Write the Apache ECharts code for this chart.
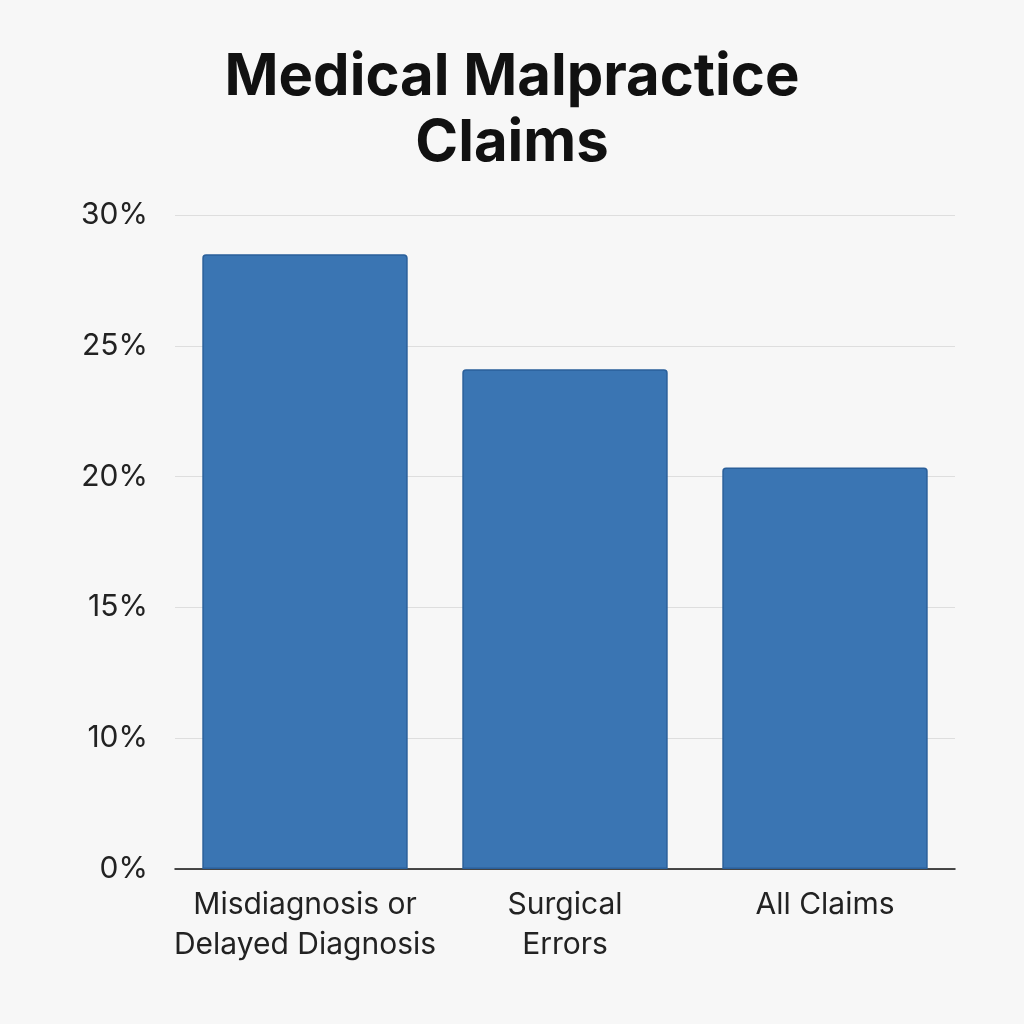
<!DOCTYPE html>
<html>
<head>
<meta charset="utf-8">
<script src="https://cdn.jsdelivr.net/npm/echarts@6/dist/echarts.min.js"></script>
<style>
html,body{margin:0;padding:0;background:#f7f7f7;}
#chart{width:1024px;height:1024px;}
</style>
</head>
<body>
<div id="chart"></div>
<script>
var categories = ['Misdiagnosis or\nDelayed Diagnosis', 'Surgical\nErrors', 'All Claims'];
var values = [28.5, 24.1, 20.35]; // percent
var tickLabels = ['0%', '10%', '15%', '20%', '25%', '30%'];
var tickValues = [0, 10, 15, 20, 25, 30];

// the picture's axis spaces its ticks evenly, so map percent -> tick step
function toStep(v){
  for (var i = 1; i < tickValues.length; i++) {
    if (v <= tickValues[i]) {
      return (i - 1) + (v - tickValues[i-1]) / (tickValues[i] - tickValues[i-1]);
    }
  }
  return tickValues.length - 1;
}

var myChart = echarts.init(document.getElementById('chart'));
var option = {
  backgroundColor: '#f7f7f7',
  title: {
    text: 'Medical Malpractice\nClaims',
    left: 'center',
    top: 40,
    textStyle: {fontFamily: 'Inter', fontWeight: 'bold', fontSize: 58, lineHeight: 66, color: '#111'}
  },
  grid: {left: 175, right: 69, top: 215, bottom: 155},
  xAxis: {
    type: 'category',
    data: categories,
    axisLine: {lineStyle: {color: '#111', width: 1.5}},
    axisTick: {show: false},
    axisLabel: {interval: 0, fontFamily: 'Inter', fontSize: 30, color: '#222', lineHeight: 40, margin: 16}
  },
  yAxis: {
    type: 'value',
    min: 0, max: 5, interval: 1,
    axisLabel: {
      fontFamily: 'Inter', fontSize: 30, color: '#222', margin: 27,
      formatter: function(v){ return tickLabels[Math.round(v)]; }
    },
    splitLine: {lineStyle: {color: '#dedede'}}
  },
  series: [{
    type: 'bar',
    barWidth: '79%',
    data: values.map(toStep),
    itemStyle: {color: '#3a75b3', borderColor: '#2a5f9a', borderWidth: 1.5, borderRadius: [3,3,0,0]}
  }]
};
myChart.setOption(option);
</script>
</body>
</html>
